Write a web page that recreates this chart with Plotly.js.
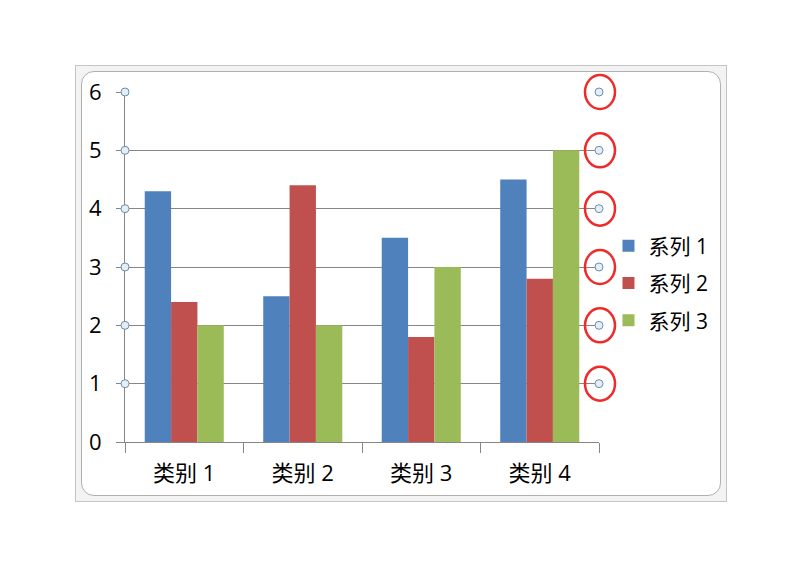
<!DOCTYPE html>
<html>
<head>
<meta charset="utf-8">
<script src="https://cdn.plot.ly/plotly-3.0.1.min.js"></script>
<style>
html,body{margin:0;padding:0;background:#fff;width:797px;height:562px;overflow:hidden;}
#outer{position:absolute;left:75px;top:65px;width:652px;height:437px;border:1px solid #c4c4c4;background:#f3f3f3;box-sizing:border-box;}
#inner{position:absolute;left:81px;top:71px;width:640px;height:425px;border:1px solid #b0b0b0;border-radius:13px;background:#fff;box-sizing:border-box;}
#chart{position:absolute;left:0;top:0;width:797px;height:562px;}
</style>
</head>
<body>
<div id="outer"></div>
<div id="inner"></div>
<div id="chart"></div>
<script>
const categories = ['类别 1', '类别 2', '类别 3', '类别 4'];
const seriesNames = ['系列 1', '系列 2', '系列 3'];
const series1 = [4.3, 2.5, 3.5, 4.5];
const series2 = [2.4, 4.4, 1.8, 2.8];
const series3 = [2, 2, 3, 5];
const yTicks = [0, 1, 2, 3, 4, 5, 6];
const handleTicks = [1, 2, 3, 4, 5, 6];
const colors = ['#4F81BD', '#C0504D', '#9BBB59'];

const yMax = 6;
const font = 'Open Sans, Noto Sans CJK SC, sans-serif';
const allSeries = [series1, series2, series3];
const traces = allSeries.map((vals, i) => ({
  type: 'bar', x: categories, y: vals, name: seriesNames[i], legendgroup: 'g' + i,
  marker: {color: colors[i], line: {width: 0}}
}));

const shapes = [];
handleTicks.forEach(v => {
  const py = v / yMax;
  [0, 1].forEach(px => {
    shapes.push({type: 'circle', xref: 'paper', yref: 'paper', xsizemode: 'pixel', ysizemode: 'pixel',
      xanchor: px, yanchor: py, x0: -4, x1: 4, y0: -4, y1: 4,
      line: {color: '#6b8fae', width: 1}, fillcolor: '#e6eef5', layer: 'above'});
  });
  shapes.push({type: 'circle', xref: 'paper', yref: 'paper', xsizemode: 'pixel', ysizemode: 'pixel',
    xanchor: 1, yanchor: py, x0: -14, x1: 16, y0: -17, y1: 17,
    line: {color: '#ee2a2a', width: 2.5}, fillcolor: 'rgba(0,0,0,0)', layer: 'above'});
});

const layout = {
  width: 797, height: 562,
  margin: {l: 125, r: 198, t: 92, b: 120},
  paper_bgcolor: 'rgba(0,0,0,0)', plot_bgcolor: 'rgba(0,0,0,0)',
  font: {family: font, size: 22, color: '#000'},
  barmode: 'group', bargap: 0.333, bargroupgap: 0,
  showlegend: true,
  legend: {x: 1.02, xanchor: 'left', y: 0.454, yanchor: 'middle',
    font: {family: font, size: 21, color: '#000'}, bgcolor: 'rgba(0,0,0,0)',
    traceorder: 'grouped', tracegroupgap: 7, itemsizing: 'constant'},
  xaxis: {type: 'category', showgrid: false, showline: true, linecolor: '#868686', linewidth: 1,
    ticks: 'outside', tickson: 'boundaries', ticklen: 10, tickcolor: '#868686',
    ticklabelstandoff: 12,
    tickfont: {family: font, size: 22, color: '#000'}, zeroline: false, fixedrange: true},
  yaxis: {range: [0, yMax], tickvals: yTicks, showgrid: true, gridcolor: '#868686', gridwidth: 1,
    showline: true, linecolor: '#868686', linewidth: 1, ticks: 'outside', ticklen: 8, tickcolor: '#868686',
    ticklabelstandoff: 10, tickfont: {family: font, size: 22, color: '#000'}, zeroline: false, fixedrange: true},
  shapes: shapes
};
Plotly.newPlot('chart', traces, layout, {displayModeBar: false, staticPlot: true});
</script>
</body>
</html>
